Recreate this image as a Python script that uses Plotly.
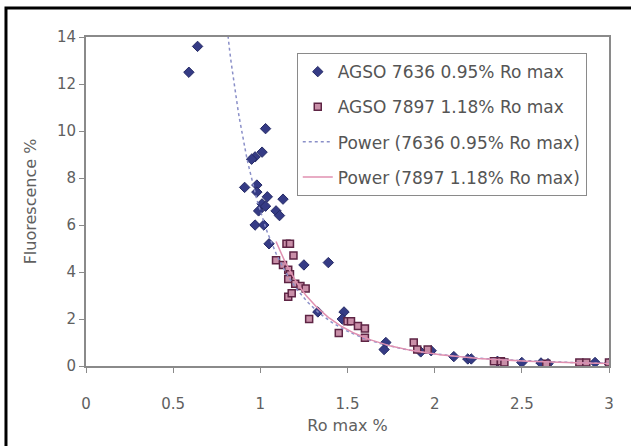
import numpy as np
import plotly.graph_objects as go

# AGSO 7636 0.95% Ro max
x_7636 = [0.59, 0.64, 1.03, 1.01, 0.97, 0.95, 0.91, 0.98, 0.98, 1.04, 1.13, 1.01, 0.99,
          1.03, 1.09, 1.11, 0.97, 1.02, 1.05, 1.25, 1.39, 1.33, 1.48, 1.47, 1.72, 1.71,
          1.92, 1.98, 2.11, 2.19, 2.21, 2.36, 2.50, 2.61, 2.65, 2.92, 3.00]
y_7636 = [12.5, 13.6, 10.1, 9.1, 8.9, 8.8, 7.6, 7.7, 7.4, 7.2, 7.1, 6.9, 6.6,
          6.8, 6.6, 6.4, 6.0, 6.0, 5.2, 4.3, 4.4, 2.3, 2.3, 2.0, 1.0, 0.7,
          0.6, 0.65, 0.4, 0.3, 0.3, 0.2, 0.15, 0.13, 0.1, 0.15, 0.1]

# AGSO 7897 1.18% Ro max
x_7897 = [1.15, 1.17, 1.19, 1.09, 1.13, 1.16, 1.17, 1.16, 1.20, 1.23, 1.26, 1.16, 1.18,
          1.28, 1.45, 1.50, 1.52, 1.56, 1.60, 1.60, 1.88, 1.90, 1.96, 2.34, 2.38, 2.40,
          2.64, 2.83, 2.87, 3.00]
y_7897 = [5.2, 5.2, 4.7, 4.5, 4.3, 4.1, 3.9, 3.7, 3.5, 3.4, 3.3, 2.95, 3.1,
          2.0, 1.4, 1.9, 1.9, 1.7, 1.6, 1.2, 1.0, 0.7, 0.7, 0.2, 0.2, 0.15,
          0.1, 0.15, 0.15, 0.15]

names = ["AGSO 7636 0.95% Ro max", "AGSO 7897 1.18% Ro max",
         "Power (7636 0.95% Ro max)", "Power (7897 1.18% Ro max)"]
x_ticks = [0, 0.5, 1, 1.5, 2, 2.5, 3]
y_ticks = [0, 2, 4, 6, 8, 10, 12, 14]


def power_fit(x, y):
    x = np.asarray(x, float)
    y = np.asarray(y, float)
    b, lna = np.polyfit(np.log(x), np.log(y), 1)
    xs = np.linspace(x.min(), x.max(), 300)
    return xs, np.exp(lna) * xs ** b


FONT = "DejaVu Sans"
fx1, fy1 = power_fit(x_7636, y_7636)
fx2, fy2 = power_fit(x_7897, y_7897)

fig = go.Figure()
fig.add_trace(go.Scatter(x=x_7636, y=y_7636, mode="markers", name=names[0],
                         legendgroup="a",
                         marker=dict(symbol="diamond", size=8, color="#353b85",
                                     line=dict(color="#262b66", width=1))))
fig.add_trace(go.Scatter(x=x_7897, y=y_7897, mode="markers", name=names[1],
                         legendgroup="b",
                         marker=dict(symbol="square", size=7, color="#c98fa8",
                                     line=dict(color="#5e2444", width=1.5))))
fig.add_trace(go.Scatter(x=fx1, y=fy1, mode="lines", name=names[2], legendgroup="c",
                         line=dict(color="#8a8fc8", width=1.5, dash="dot")))
fig.add_trace(go.Scatter(x=fx2, y=fy2, mode="lines", name=names[3], legendgroup="d",
                         line=dict(color="#e090b0", width=1.5)))

fig.update_layout(
    width=631, height=446,
    margin=dict(l=86, r=22, t=37, b=80),
    paper_bgcolor="white", plot_bgcolor="white",
    font=dict(family=FONT, size=15, color="#606060"),
    showlegend=True,
    legend=dict(x=0.403, y=0.951, xanchor="left", yanchor="top",
                bordercolor="#8a8a8a", borderwidth=1, bgcolor="white",
                font=dict(family=FONT, size=17, color="#555555"),
                traceorder="grouped", tracegroupgap=10, itemwidth=30),
    xaxis=dict(range=[0, 3], tickvals=x_ticks, ticktext=[str(v) for v in x_ticks],
               showgrid=False, zeroline=False, showline=True, linecolor="#8a8a8a",
               linewidth=2, mirror=True, ticks="outside", ticklen=5,
               tickcolor="#8a8a8a", ticklabelstandoff=18,
               title=dict(text="Ro max %", standoff=8, font=dict(size=16))),
    yaxis=dict(range=[0, 14], tickvals=y_ticks, showgrid=False, zeroline=False,
               showline=True, linecolor="#8a8a8a", linewidth=2, mirror=True,
               ticks="outside", ticklen=5, tickcolor="#8a8a8a",
               title=dict(text="Fluorescence %", standoff=16, font=dict(size=16))),
    shapes=[dict(type="rect", xref="paper", yref="paper",
                 x0=-0.153, x1=1.3, y0=-0.6, y1=1.088,
                 line=dict(color="black", width=3), layer="above")],
)

fig.write_html("out.html")
